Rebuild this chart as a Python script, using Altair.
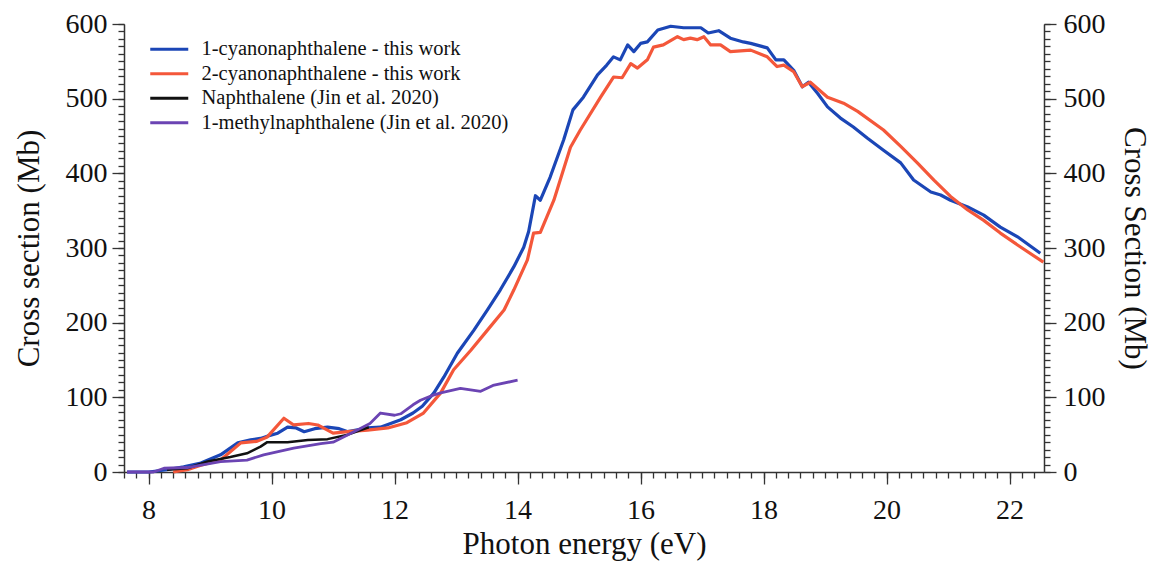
import altair as alt
import pandas as pd

FONT = "Liberation Serif"

names = [
    "1-cyanonaphthalene - this work",
    "2-cyanonaphthalene - this work",
    "Naphthalene (Jin et al. 2020)",
    "1-methylnaphthalene (Jin et al. 2020)",
]
colors = ["#1b46b6", "#f4573a", "#111111", "#6b44b3"]
widths = [3.2, 3.2, 2.5, 2.8]

cn1_x = [7.65, 8.0, 8.3, 8.57, 8.85, 9.17, 9.45, 9.66, 9.82, 9.93, 10.1, 10.26, 10.4, 10.53, 10.7,
         10.91, 11.1, 11.24, 11.56, 11.77, 12.1, 12.3, 12.45, 12.64, 12.8, 13.02, 13.29, 13.51, 13.72,
         13.94, 14.1, 14.18, 14.29, 14.37, 14.53, 14.75, 14.9, 15.07, 15.3, 15.45, 15.56, 15.67, 15.79,
         15.89, 16.0, 16.11, 16.28, 16.49, 16.7, 16.85, 16.98, 17.1, 17.27, 17.46, 17.67, 17.79, 18.06,
         18.2, 18.33, 18.49, 18.63, 18.73, 18.88, 19.04, 19.25, 19.46, 19.69, 19.95, 20.23, 20.44,
         20.72, 20.88, 21.04, 21.32, 21.58, 21.85, 22.13, 22.5]
cn1_y = [0, 0, 3, 7, 12, 23, 39, 43, 45, 48, 52, 60, 59, 54, 58,
         60, 58, 54, 59, 60, 70, 79, 88, 106, 127, 159, 190, 217, 244,
         275, 301, 322, 370, 364, 395, 445, 485, 502, 532, 545, 556, 552, 572,
         563, 574, 576, 592, 597, 595, 595, 595, 588, 591, 581, 576, 574, 568,
         552, 552, 538, 516, 522, 507, 489, 474, 462, 447, 431, 414, 391,
         375, 371, 364, 355, 344, 328, 315, 293]

cn2_x = [8.4, 8.63, 8.85, 9.17, 9.5, 9.76, 9.93, 10.2, 10.36, 10.6, 10.75, 11.0, 11.24, 11.56, 11.89,
         12.2, 12.47, 12.75, 12.96, 13.24, 13.51, 13.78, 13.94, 14.16, 14.26, 14.37, 14.59, 14.86,
         15.02, 15.35, 15.56, 15.7, 15.84, 15.95, 16.11, 16.21, 16.37, 16.6, 16.7, 16.81, 16.92, 17.03,
         17.14, 17.3, 17.46, 17.79, 18.06, 18.22, 18.33, 18.49, 18.63, 18.76, 19.04, 19.3, 19.53,
         19.95, 20.23, 20.5, 20.77, 21.04, 21.32, 21.58, 21.85, 22.13, 22.55]
cn2_y = [0, 3, 9, 16, 39, 41, 47, 72, 63, 65, 63, 52, 54, 56, 59,
         66, 79, 106, 137, 163, 190, 217, 244, 284, 320, 321, 364, 435,
         458, 502, 529, 528, 547, 541, 552, 569, 572, 583, 579, 581, 579, 583,
         572, 572, 563, 565, 556, 543, 545, 536, 516, 522, 502, 494, 483,
         458, 436, 414, 391, 369, 351, 337, 320, 304, 281]

naph_x = [8.3, 8.63, 8.96, 9.33, 9.6, 9.82, 9.93, 10.26, 10.59, 10.91, 11.24, 11.58]
naph_y = [3, 5, 14, 20, 25, 34, 40, 40, 43, 44, 50, 60]

mnaph_x = [7.65, 8.08, 8.25, 8.63, 9.17, 9.6, 9.87, 10.36, 10.8, 11.0, 11.34, 11.6, 11.77, 12.0,
           12.1, 12.3, 12.42, 12.63, 12.75, 13.07, 13.4, 13.6, 14.0]
mnaph_y = [0, 0, 5, 6, 14, 16, 23, 32, 38, 40, 54, 65, 79, 76,
           78, 90, 96, 103, 106, 112, 108, 116, 123]

x_major = [8, 10, 12, 14, 16, 18, 20, 22]
y_major = [0, 100, 200, 300, 400, 500, 600]
x_minor = [round(7.6 + 0.2 * i, 1) for i in range(75)]
y_minor = [10 * i for i in range(61)]

series_data = [(names[0], cn1_x, cn1_y), (names[1], cn2_x, cn2_y),
               (names[2], naph_x, naph_y), (names[3], mnaph_x, mnaph_y)]
rows = []
for name, xs, ys in series_data:
    for xv, yv in zip(xs, ys):
        rows.append({"series": name, "x": xv, "y": yv})
df = pd.DataFrame(rows)

x_scale = alt.Scale(domain=[7.6, 22.56], nice=False, zero=False)
y_scale = alt.Scale(domain=[0, 600], nice=False, zero=False)
color_scale = alt.Scale(domain=names, range=colors)

legend = alt.Legend(
    title=None, orient="none", legendX=35, legendY=15,
    symbolType="M-3.8,0H3.8", symbolSize=100, symbolStrokeWidth=3,
    labelFont=FONT, labelFontSize=20.5, labelColor="#111111",
    labelOffset=22, rowPadding=3.5, padding=0, labelLimit=600,
)

x_axis_major = alt.Axis(values=x_major, format="d", title="Photon energy (eV)", orient="bottom",
                        tickSize=12, labelPadding=12, titlePadding=5, grid=False)
y_axis_left = alt.Axis(values=y_major, format="d", title="Cross section (Mb)", orient="left",
                       tickSize=12, labelPadding=5, titlePadding=20, grid=False)


def minor_axis(vals, orient):
    return alt.Axis(values=vals, orient=orient, tickSize=6, labelOpacity=0, labelFontSize=1,
                    domainOpacity=0, title=None, grid=False)


layers = []
for i, name in enumerate(names):
    layers.append(
        alt.Chart(df)
        .transform_filter(alt.datum.series == name)
        .mark_line(strokeWidth=widths[i], strokeJoin="round")
        .encode(
            x=alt.X("x:Q", scale=x_scale, axis=x_axis_major if i == 0 else None),
            y=alt.Y("y:Q", scale=y_scale, axis=y_axis_left if i == 0 else None),
            color=alt.Color("series:N", scale=color_scale, legend=legend),
        )
    )

# minor ticks bottom + left
layers.append(
    alt.Chart(df).mark_point(opacity=0).encode(
        x=alt.X("x:Q", scale=x_scale, axis=minor_axis(x_minor, "bottom")),
        y=alt.Y("y:Q", scale=y_scale, axis=minor_axis(y_minor, "left")),
    )
)
# right axis major
layers.append(
    alt.Chart(df).mark_point(opacity=0).encode(
        x=alt.X("x:Q", scale=x_scale, axis=None),
        y=alt.Y("y:Q", scale=y_scale, axis=alt.Axis(values=y_major, format="d", orient="right",
                                                    title="Cross Section (Mb)", tickSize=12,
                                                    labelPadding=7, titlePadding=12, grid=False)),
    )
)
# right axis minor
layers.append(
    alt.Chart(df).mark_point(opacity=0).encode(
        x=alt.X("x:Q", scale=x_scale, axis=None),
        y=alt.Y("y:Q", scale=y_scale, axis=minor_axis(y_minor, "right")),
    )
)

chart = (
    alt.layer(*layers)
    .resolve_axis(x="independent", y="independent")
    .properties(
        width=920, height=448,
        padding={"left": 116, "top": 16, "right": 109, "bottom": 92},
        autosize=alt.AutoSizeParams(type="none"),
        background="white",
    )
    .configure_view(stroke=None)
    .configure_axis(
        labelFont=FONT, titleFont=FONT, labelFontSize=28, titleFontSize=31,
        titleFontWeight="normal", labelColor="#111111", titleColor="#111111",
        domainColor="#333333", tickColor="#333333", domainWidth=1.5, tickWidth=1.3,
    )
)

chart.save("out.html", embed_options={"renderer": "svg", "actions": False})
